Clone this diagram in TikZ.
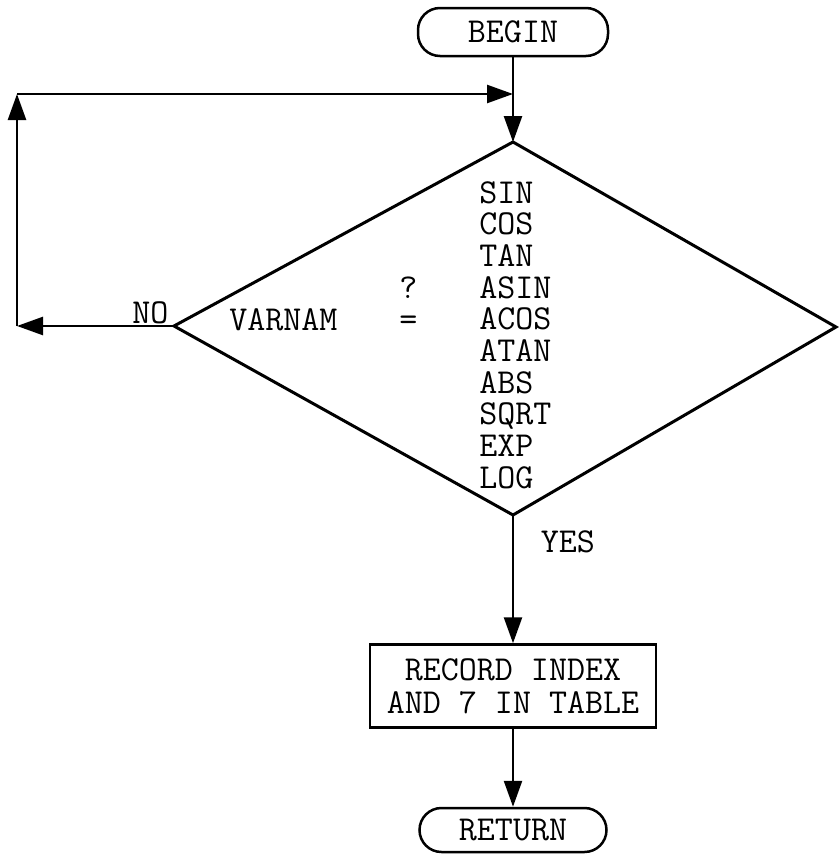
\documentclass[tikz,border=0pt]{standalone}
\usepackage{tikz}
\usetikzlibrary{positioning,arrows.meta}

\begin{document}
\begin{tikzpicture}[x=1pt, y=-1pt, line width=2.5pt,
  font=\ttfamily\fontsize{35}{33}\selectfont,
  term/.style={draw, rounded corners=22pt, minimum width=190pt, minimum height=48pt, inner sep=0pt},
  proc/.style={draw, align=center, minimum width=286pt, minimum height=83pt, inner sep=0pt},
  fn/.style={anchor=base west, inner sep=0pt, text height=21pt, text depth=3pt},
  lbl/.style={inner sep=1.5pt, text height=21pt, text depth=0pt},
  arr/.style={-{Triangle[length=26pt, width=18pt]}}]
  \useasboundingbox (0,0) rectangle (838,854);

  % Terminals and process box
  \node[term] (begin) at (513,32) {BEGIN};
  \node[proc] (record) at (513,686) {RECORD INDEX\\AND 7 IN TABLE};
  \node[term, minimum width=187pt, minimum height=44pt] (return) at (513,830) {RETURN};

  % Decision
  \coordinate (dtop) at (513,142);
  \coordinate (dright) at (836,327);
  \coordinate (dbot) at (513,515);
  \coordinate (dleft) at (174,326);
  \draw[line width=3pt] (dtop) -- (dright) -- (dbot) -- (dleft) -- cycle;

  \node[fn] (varnam) at (228,330) {VARNAM};
  \node[fn] (ask) at (398,298) {?};
  \node[fn] (eq) at (398,330) {=};
  \foreach \fname [count=\k from 0] in {SIN,COS,TAN,ASIN,ACOS,ATAN,ABS,SQRT,EXP,LOG}
    \node[fn] (fn\k) at (478, 203+31.7*\k) {\fname};

  % Loop back
  \coordinate (loopB) at (17,326);
  \coordinate (loopT) at (17,94);
  \coordinate (join) at (513,94);

  % Connectors
  \draw[arr] (begin) -- (dtop);
  \draw[arr] (dleft) -- node[lbl, above, pos=0.15] {NO} (loopB);
  \draw[arr] (loopB) -- (loopT);
  \draw[arr] (loopT) -- (join);
  \draw[arr] (dbot) -- node[lbl, right=25pt, pos=0.21] {YES} (record);
  \draw[arr] (record) -- (return);
\end{tikzpicture}
\end{document}
